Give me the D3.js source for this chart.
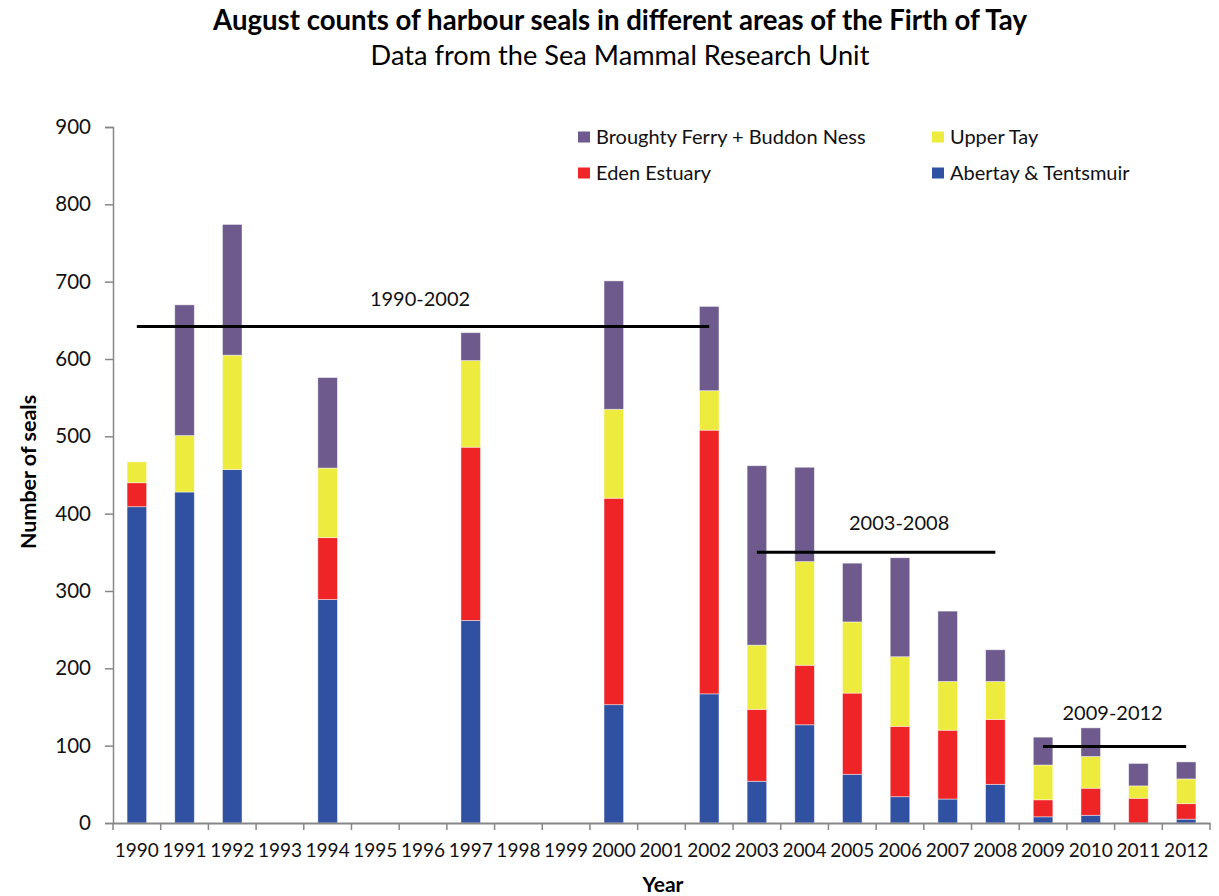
<!DOCTYPE html>
<html>
<head>
<meta charset="utf-8">
<script src="https://cdn.jsdelivr.net/npm/d3@7/dist/d3.min.js"></script>
<style>
  html, body { margin: 0; padding: 0; background: #fff; }
  svg { display: block; font-family: Lato, "Noto Sans", sans-serif; }
</style>
</head>
<body>
<svg id="chart" width="1219" height="896"></svg>
<script>
// ---------- data ----------
const years = ["1990","1991","1992","1993","1994","1995","1996","1997","1998","1999","2000","2001","2002",
               "2003","2004","2005","2006","2007","2008","2009","2010","2011","2012"];
const abertay  = [409,428,457,0,289,0,0,262,0,0,153,0,167, 54,127, 63, 34, 31, 50,  8, 10,  0,  5];
const eden     = [ 31,  0,  0,0, 80,0,0,224,0,0,267,0,341, 93, 77,105, 91, 89, 84, 22, 35, 32, 20];
const upperTay = [ 27, 73,148,0, 90,0,0,112,0,0,115,0, 51, 83,134, 92, 90, 63, 49, 45, 41, 16, 32];
const broughty = [  0,169,169,0,117,0,0, 36,0,0,166,0,109,232,122, 76,128, 91, 41, 36, 37, 29, 22];
const seriesNames = ["Abertay & Tentsmuir","Eden Estuary","Upper Tay","Broughty Ferry + Buddon Ness"];
const yTicks = [0,100,200,300,400,500,600,700,800,900];
const periodLabels = ["1990-2002","2003-2008","2009-2012"];
const periodStart  = ["1990","2003","2009"];
const periodEnd    = ["2002","2008","2012"];
const periodMean   = [642, 350, 99];

// ---------- style / layout ----------
const colors = {
  "Abertay & Tentsmuir": "#3050A2",
  "Eden Estuary": "#EE2426",
  "Upper Tay": "#EEEB3F",
  "Broughty Ferry + Buddon Ness": "#6E5A8C"
};
const plot = { left: 113, right: 1210, top: 127, bottom: 823 };
const axisColor = "#878787";
const labelDx = [-3, 23, -2];  // label offsets from line centre
const labelDy = [-21, -22, -26];

const svg = d3.select("#chart");

const x = d3.scaleBand().domain(years).range([plot.left, plot.right])
  .paddingInner(0.59).paddingOuter(0.295);
const y = d3.scaleLinear().domain([0, 900]).range([plot.bottom, plot.top]);

// stacked data
const table = years.map((yr, i) => ({
  year: yr,
  "Abertay & Tentsmuir": abertay[i],
  "Eden Estuary": eden[i],
  "Upper Tay": upperTay[i],
  "Broughty Ferry + Buddon Ness": broughty[i]
}));
const stacked = d3.stack().keys(seriesNames)(table);

// bars
svg.append("g").selectAll("g").data(stacked).join("g")
  .attr("fill", d => colors[d.key])
  .selectAll("rect").data(d => d.filter(s => s[1] - s[0] > 0)).join("rect")
  .attr("x", d => x(d.data.year))
  .attr("width", x.bandwidth())
  .attr("y", d => y(d[1]))
  .attr("height", d => y(d[0]) - y(d[1]))
  .attr("stroke", "rgba(255,255,255,0.55)")
  .attr("stroke-width", 0.8);

// y axis
const yAxis = svg.append("g").attr("transform", `translate(${plot.left},0)`)
  .call(d3.axisLeft(y).tickValues(yTicks).tickSize(8).tickPadding(14).tickFormat(d3.format("d")));
yAxis.select(".domain").attr("stroke", axisColor).attr("stroke-width", 1.5);
yAxis.selectAll(".tick line").attr("stroke", axisColor).attr("stroke-width", 1.5);
yAxis.selectAll(".tick text").attr("font-size", 20.5).attr("fill", "#111").attr("font-family", "Lato");

// x axis
const xAxis = svg.append("g").attr("transform", `translate(0,${plot.bottom})`)
  .call(d3.axisBottom(x).tickSize(0).tickPadding(21));
xAxis.select(".domain").attr("stroke", axisColor).attr("stroke-width", 1.8);
xAxis.selectAll(".tick text").attr("font-size", 19).attr("fill", "#111").attr("font-family", "Lato");
// category boundary ticks
const step = x.step();
const boundaries = d3.range(years.length + 1).map(i => plot.left + i * step);
svg.append("g").selectAll("line").data(boundaries).join("line")
  .attr("x1", d => d).attr("x2", d => d)
  .attr("y1", plot.bottom).attr("y2", plot.bottom + 7)
  .attr("stroke", axisColor).attr("stroke-width", 1.5);

// period mean lines
const cx = yr => x(yr) + x.bandwidth() / 2;
periodLabels.forEach((lab, i) => {
  const x1 = cx(periodStart[i]), x2 = cx(periodEnd[i]);
  const yy = y(periodMean[i]);
  svg.append("line").attr("x1", x1).attr("x2", x2).attr("y1", yy).attr("y2", yy)
    .attr("stroke", "#000").attr("stroke-width", 3);
  svg.append("text").attr("x", (x1 + x2) / 2 + labelDx[i]).attr("y", yy + labelDy[i])
    .attr("text-anchor", "middle").attr("font-size", 20).attr("fill", "#111").text(lab);
});

// legend
const legendItems = [
  { name: "Broughty Ferry + Buddon Ness", x: 578, y: 137 },
  { name: "Upper Tay", x: 932, y: 137 },
  { name: "Eden Estuary", x: 578, y: 173 },
  { name: "Abertay & Tentsmuir", x: 932, y: 173 }
];
const lg = svg.append("g").selectAll("g").data(legendItems).join("g")
  .attr("transform", d => `translate(${d.x},${d.y})`);
lg.append("rect").attr("x", 0).attr("y", -5.5).attr("width", 12).attr("height", 11)
  .attr("fill", d => colors[d.name]);
lg.append("text").attr("x", 18).attr("y", 7).attr("font-size", 20).attr("fill", "#111")
  .text(d => d.name);

// titles
function fitText(sel, target) {
  const w = sel.node().getComputedTextLength();
  const fs = parseFloat(sel.attr("font-size"));
  sel.attr("font-size", fs * target / w);
}
const t1 = svg.append("text").attr("x", 620).attr("y", 30).attr("text-anchor", "middle")
  .attr("font-size", 22).attr("font-weight", "bold").attr("fill", "#000")
  .text("August counts of harbour seals in different areas of the Firth of Tay");
fitText(t1, 814);
const t2 = svg.append("text").attr("x", 620).attr("y", 65).attr("text-anchor", "middle")
  .attr("font-size", 22).attr("fill", "#000")
  .text("Data from the Sea Mammal Research Unit");
fitText(t2, 499);

// axis titles
svg.append("text").attr("transform", "translate(36,472) rotate(-90)")
  .attr("text-anchor", "middle").attr("font-size", 21.5).attr("font-weight", "bold").attr("fill", "#000")
  .text("Number of seals");
svg.append("text").attr("x", 663).attr("y", 892).attr("text-anchor", "middle")
  .attr("font-size", 21).attr("font-weight", "bold").attr("fill", "#000")
  .text("Year");
</script>
</body>
</html>
